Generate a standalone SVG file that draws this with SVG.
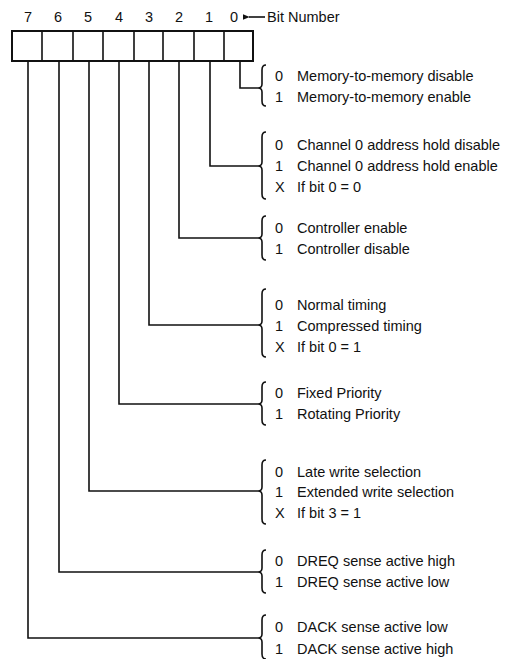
<svg xmlns="http://www.w3.org/2000/svg" width="512" height="659" viewBox="0 0 512 659">
<style>
text{font-family:"Liberation Sans",Arial,sans-serif;font-size:14.5px;fill:#111}
.n{text-anchor:middle}
.ln{fill:none;stroke:#111;stroke-width:1.6}
.box{fill:#fff;stroke:#111;stroke-width:2}
.br{fill:none;stroke:#111;stroke-width:1.6}
</style>
<defs>
<marker id="ah" viewBox="0 0 10 10" refX="1" refY="5" markerWidth="7" markerHeight="7" orient="auto-start-reverse" markerUnits="userSpaceOnUse">
<path d="M0,5 L10,1 L10,9 Z" fill="#111"/>
</marker>
</defs>
<rect width="512" height="659" fill="#fff"/>
<g id="register">
<rect class="box" x="12" y="31" width="241" height="30"/>
<path class="ln" d="M42,31V61 M73,31V61 M103,31V61 M134,31V61 M163,31V61 M194,31V61 M224,31V61"/>
<text class="n" x="28" y="22">7</text>
<text class="n" x="58" y="22">6</text>
<text class="n" x="88" y="22">5</text>
<text class="n" x="119" y="22">4</text>
<text class="n" x="149" y="22">3</text>
<text class="n" x="179" y="22">2</text>
<text class="n" x="209" y="22">1</text>
<text class="n" x="234" y="22">0</text>
<path class="ln" d="M249,17H265" marker-start="url(#ah)"/>
<text x="267" y="22">Bit Number</text>
</g>
<g id="connectors">
<path class="ln" d="M240,61V88H258"/>
<path class="ln" d="M210,61V166H258"/>
<path class="ln" d="M179,61V238H258"/>
<path class="ln" d="M149,61V325H258"/>
<path class="ln" d="M119,61V404H258"/>
<path class="ln" d="M89,61V491H258"/>
<path class="ln" d="M59,61V572H258"/>
<path class="ln" d="M28,61V638H258"/>
</g>
<g id="bit0">
<path class="br" d="M266,65Q262,65 262,70V84Q262,88 258,88Q262,88 262,92V101Q262,106 266,106"/>
<text x="275" y="81">0</text><text x="297" y="81">Memory-to-memory disable</text>
<text x="275" y="102">1</text><text x="297" y="102">Memory-to-memory enable</text>
</g>
<g id="bit1">
<path class="br" d="M266,132Q262,132 262,137V162Q262,166 258,166Q262,166 262,170V194Q262,199 266,199"/>
<text x="275" y="150">0</text><text x="297" y="150">Channel 0 address hold disable</text>
<text x="275" y="171">1</text><text x="297" y="171">Channel 0 address hold enable</text>
<text x="275" y="192">X</text><text x="297" y="192">If bit 0 = 0</text>
</g>
<g id="bit2">
<path class="br" d="M266,216Q262,216 262,221V234Q262,238 258,238Q262,238 262,242V255Q262,260 266,260"/>
<text x="275" y="233">0</text><text x="297" y="233">Controller enable</text>
<text x="275" y="254">1</text><text x="297" y="254">Controller disable</text>
</g>
<g id="bit3">
<path class="br" d="M266,289Q262,289 262,294V321Q262,325 258,325Q262,325 262,329V352Q262,357 266,357"/>
<text x="275" y="310">0</text><text x="297" y="310">Normal timing</text>
<text x="275" y="331">1</text><text x="297" y="331">Compressed timing</text>
<text x="275" y="352">X</text><text x="297" y="352">If bit 0 = 1</text>
</g>
<g id="bit4">
<path class="br" d="M266,382Q262,382 262,387V400Q262,404 258,404Q262,404 262,408V420Q262,425 266,425"/>
<text x="275" y="398">0</text><text x="297" y="398">Fixed Priority</text>
<text x="275" y="419">1</text><text x="297" y="419">Rotating Priority</text>
</g>
<g id="bit5">
<path class="br" d="M266,460Q262,460 262,465V487Q262,491 258,491Q262,491 262,495V519Q262,524 266,524"/>
<text x="275" y="477">0</text><text x="297" y="477">Late write selection</text>
<text x="275" y="497">1</text><text x="297" y="497">Extended write selection</text>
<text x="275" y="518">X</text><text x="297" y="518">If bit 3 = 1</text>
</g>
<g id="bit6">
<path class="br" d="M266,550Q262,550 262,555V568Q262,572 258,572Q262,572 262,576V588Q262,593 266,593"/>
<text x="275" y="566">0</text><text x="297" y="566">DREQ sense active high</text>
<text x="275" y="587">1</text><text x="297" y="587">DREQ sense active low</text>
</g>
<g id="bit7">
<path class="br" d="M266,615Q262,615 262,620V634Q262,638 258,638Q262,638 262,642V654Q262,659 266,659"/>
<text x="275" y="632">0</text><text x="297" y="632">DACK sense active low</text>
<text x="275" y="654">1</text><text x="297" y="654">DACK sense active high</text>
</g>
</svg>
